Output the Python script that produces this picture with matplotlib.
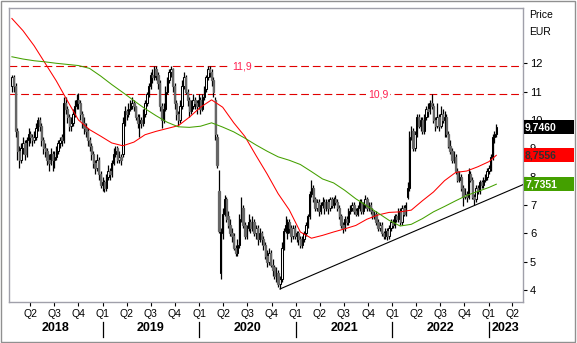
import matplotlib
matplotlib.use("Agg")
import matplotlib.pyplot as plt
import matplotlib.dates as mdates
from matplotlib.patches import Rectangle
import pandas as pd

plt.rcParams['font.family'] = ['Liberation Sans', 'DejaVu Sans']

# weekly candles, Jan 2018 - Feb 2023
weeks = pd.date_range('2018-01-22', periods=263, freq='7D')

open_ = [
    11.2, 11.5, 11.2, 9.6, 8.9, 8.6, 9.0, 9.2, 8.8, 9.3,
    9.5, 9.4, 9.3, 9.4, 9.7, 10.0, 9.8, 9.3, 9.0, 8.9,
    8.6, 8.5, 8.8, 8.6, 8.7, 8.9, 9.2, 9.4, 9.3, 10.6,
    10.4, 10.1, 9.8, 9.9, 10.2, 10.5, 10.7, 10.6, 10.2, 9.9,
    9.7, 9.6, 9.3, 9.1, 8.8, 8.5, 8.3, 8.6, 8.1, 7.7,
    7.8, 7.6, 8.0, 8.2, 8.1, 8.5, 8.8, 9.0, 8.6, 8.7,
    8.8, 9.9, 10.3, 10.2, 10.4, 10.5, 10.6, 10.5, 10.1, 9.9,
    10.0, 9.9, 10.2, 10.6, 10.9, 11.2, 11.6, 11.5, 11.8, 11.6,
    11.3, 10.5, 10.0, 10.4, 11.0, 11.4, 11.7, 11.8, 11.2, 10.6,
    10.2, 10.0, 10.5, 11.2, 11.5, 11.0, 10.7, 10.3, 10.5, 10.7,
    10.6, 10.5, 10.7, 10.4, 10.8, 11.1, 11.5, 11.8, 11.7, 11.4,
    10.7, 9.4, 7.5, 4.6, 6.0, 6.7, 7.2, 6.6, 6.3, 6.0,
    5.9, 5.5, 5.3, 5.6, 6.5, 6.9, 6.3, 5.9, 6.2, 6.4,
    6.2, 6.4, 6.0, 6.2, 5.8, 6.0, 5.8, 5.6, 5.2, 5.0,
    5.3, 4.9, 4.8, 4.5, 4.6, 4.2, 4.4, 5.5, 6.1, 6.0,
    6.4, 6.2, 5.9, 6.2, 5.9, 6.0, 5.8, 5.6, 5.8, 6.0,
    6.3, 6.6, 7.4, 7.6, 7.2, 6.9, 7.1, 6.8, 7.0, 7.1,
    6.9, 7.1, 6.9, 7.2, 7.0, 7.2, 7.1, 6.9, 6.6, 6.3,
    6.2, 6.5, 6.4, 6.8, 6.9, 7.0, 6.8, 6.7, 6.9, 7.1,
    6.8, 7.0, 7.2, 6.9, 7.0, 6.8, 6.6, 6.7, 6.4, 6.2,
    6.3, 6.0, 5.9, 6.1, 5.9, 6.2, 6.4, 6.3, 6.6, 6.5,
    6.8, 6.4, 6.9, 6.7, 7.3, 7.6, 9.4, 9.6, 9.0, 9.5,
    10.1, 9.8, 10.0, 9.6, 10.1, 10.4, 10.3, 10.6, 10.5, 10.0,
    9.8, 10.1, 9.8, 10.2, 10.0, 10.1, 9.5, 9.1, 8.9, 8.6,
    8.7, 8.2, 7.9, 8.0, 7.6, 7.3, 7.4, 7.3, 8.1, 7.9,
    7.3, 7.2, 7.6, 7.5, 7.8, 7.7, 7.9, 8.0, 8.2, 8.3,
    8.7, 9.4, 9.5,
]
high = [
    11.6, 11.6, 11.3, 9.7, 9.1, 9.2, 9.4, 9.3, 9.4, 9.7,
    9.6, 9.5, 9.6, 9.9, 10.1, 10.1, 9.9, 9.4, 9.2, 9.0,
    8.8, 9.0, 8.9, 8.9, 9.1, 9.3, 9.4, 9.5, 10.8, 10.8,
    10.5, 10.2, 10.1, 10.4, 10.7, 10.9, 10.95, 10.7, 10.3, 10.1,
    9.9, 9.7, 9.4, 9.2, 8.9, 8.6, 8.8, 8.7, 8.2, 8.0,
    7.9, 8.1, 8.4, 8.3, 8.6, 9.0, 9.1, 9.1, 8.9, 8.8,
    10.1, 10.5, 10.4, 10.6, 10.7, 10.8, 10.7, 10.5, 10.2, 10.2,
    10.1, 10.4, 10.7, 11.0, 11.3, 11.7, 11.8, 11.9, 11.9, 11.7,
    11.4, 10.6, 10.6, 11.2, 11.5, 11.8, 11.9, 11.85, 11.3, 10.7,
    10.3, 10.7, 11.4, 11.7, 11.6, 11.1, 10.8, 10.7, 10.9, 10.8,
    10.7, 10.9, 10.8, 10.9, 11.2, 11.6, 11.9, 11.9, 11.8, 11.5,
    10.8, 9.5, 8.24, 6.2, 6.9, 7.35, 7.3, 6.8, 6.5, 6.2,
    6.0, 5.6, 5.8, 6.7, 7.3, 7.0, 6.4, 6.3, 6.7, 6.5,
    6.6, 6.5, 6.3, 6.3, 6.2, 6.1, 5.9, 5.7, 5.4, 5.5,
    5.4, 5.1, 4.9, 4.8, 4.7, 4.5, 5.7, 6.2, 6.6, 6.5,
    6.5, 6.3, 6.3, 6.3, 6.1, 6.1, 5.9, 5.9, 6.1, 6.4,
    6.7, 7.5, 7.9, 7.7, 7.3, 7.2, 7.2, 7.1, 7.3, 7.2,
    7.2, 7.2, 7.3, 7.3, 7.3, 7.35, 7.2, 7.0, 6.7, 6.4,
    6.6, 6.6, 6.9, 7.0, 7.1, 7.1, 6.9, 7.0, 7.2, 7.2,
    7.1, 7.35, 7.3, 7.1, 7.1, 6.9, 6.8, 6.8, 6.5, 6.4,
    6.4, 6.1, 6.2, 6.2, 6.3, 6.5, 6.5, 6.7, 6.7, 6.9,
    6.9, 7.0, 7.0, 7.1, 7.8, 9.6, 9.8, 9.7, 9.6, 10.2,
    10.2, 10.1, 10.1, 10.2, 10.5, 10.6, 10.7, 10.9, 10.6, 10.1,
    10.6, 10.2, 10.5, 10.4, 10.3, 10.2, 9.6, 9.3, 9.0, 8.9,
    8.8, 8.3, 8.2, 8.1, 7.7, 7.6, 7.5, 8.3, 8.2, 8.0,
    7.4, 7.7, 7.7, 7.9, 7.9, 8.0, 8.1, 8.3, 8.4, 8.8,
    9.5, 9.6, 9.85,
]
low = [
    11.0, 11.0, 9.4, 8.6, 8.3, 8.5, 8.8, 8.6, 8.7, 9.1,
    9.2, 9.1, 9.2, 9.3, 9.6, 9.6, 9.1, 8.8, 8.7, 8.4,
    8.2, 8.4, 8.2, 8.3, 8.6, 8.8, 9.0, 9.1, 9.2, 10.2,
    9.9, 9.6, 9.6, 9.8, 10.1, 10.4, 10.4, 10.0, 9.7, 9.5,
    9.4, 9.1, 8.9, 8.6, 8.3, 8.1, 8.2, 7.9, 7.6, 7.5,
    7.45, 7.5, 7.9, 7.9, 8.0, 8.4, 8.7, 8.5, 8.5, 8.4,
    8.7, 9.8, 10.0, 10.1, 10.3, 10.4, 10.3, 10.0, 9.7, 9.4,
    9.7, 9.8, 10.1, 10.5, 10.8, 11.1, 11.3, 11.4, 11.4, 11.1,
    10.3, 9.7, 9.9, 10.3, 10.9, 11.3, 11.5, 11.0, 10.4, 10.0,
    9.8, 9.9, 10.4, 11.1, 10.9, 10.5, 10.1, 10.2, 10.4, 10.4,
    10.2, 10.4, 10.2, 10.3, 10.7, 11.0, 11.4, 11.5, 11.2, 10.8,
    9.3, 8.3, 6.0, 4.4, 5.8, 6.6, 6.4, 6.2, 5.9, 5.7,
    5.4, 5.2, 5.2, 5.5, 6.4, 6.2, 5.8, 5.8, 6.1, 6.0,
    6.1, 5.9, 5.8, 5.6, 5.7, 5.6, 5.4, 5.1, 4.8, 4.9,
    4.8, 4.5, 4.4, 4.3, 4.1, 4.05, 4.3, 5.4, 6.0, 5.8,
    6.0, 5.7, 5.8, 5.8, 5.7, 5.6, 5.5, 5.5, 5.7, 5.9,
    6.2, 6.5, 7.3, 7.1, 6.8, 6.8, 6.6, 6.7, 6.9, 6.7,
    6.8, 6.7, 6.8, 6.9, 6.9, 7.0, 6.8, 6.5, 6.2, 6.0,
    6.1, 6.3, 6.3, 6.7, 6.8, 6.7, 6.6, 6.6, 6.8, 6.7,
    6.7, 6.9, 6.8, 6.8, 6.7, 6.5, 6.5, 6.3, 6.1, 6.1,
    5.9, 5.8, 5.8, 5.77, 5.8, 6.1, 6.2, 6.2, 6.4, 6.4,
    6.3, 6.3, 6.6, 6.6, 7.2, 7.5, 9.3, 8.9, 8.9, 9.4,
    9.7, 9.6, 9.5, 9.5, 10.0, 10.1, 10.2, 10.4, 9.9, 9.6,
    9.7, 9.6, 9.7, 9.9, 9.4, 9.4, 9.0, 8.8, 8.5, 8.5,
    8.1, 7.8, 7.8, 7.5, 6.95, 7.2, 7.1, 7.2, 7.8, 7.2,
    7.0, 7.1, 7.4, 7.4, 7.6, 7.6, 7.8, 7.9, 8.1, 8.2,
    8.6, 9.2, 9.4,
]
close = [
    11.5, 11.2, 9.6, 8.9, 8.6, 9.0, 9.2, 8.8, 9.3, 9.5,
    9.4, 9.3, 9.4, 9.7, 10.0, 9.8, 9.3, 9.0, 8.9, 8.6,
    8.5, 8.8, 8.6, 8.7, 8.9, 9.2, 9.3, 9.3, 10.6, 10.4,
    10.1, 9.8, 9.9, 10.2, 10.5, 10.7, 10.6, 10.2, 9.9, 9.7,
    9.6, 9.3, 9.1, 8.8, 8.5, 8.3, 8.6, 8.1, 7.7, 7.8,
    7.6, 8.0, 8.2, 8.1, 8.5, 8.8, 8.9, 8.6, 8.7, 8.6,
    9.9, 10.3, 10.2, 10.4, 10.5, 10.6, 10.5, 10.1, 9.9, 10.0,
    9.9, 10.2, 10.6, 10.9, 11.2, 11.6, 11.5, 11.8, 11.6, 11.3,
    10.5, 10.0, 10.4, 11.0, 11.4, 11.7, 11.8, 11.2, 10.6, 10.2,
    10.0, 10.5, 11.2, 11.5, 11.0, 10.7, 10.3, 10.5, 10.7, 10.6,
    10.5, 10.7, 10.4, 10.8, 11.1, 11.5, 11.8, 11.7, 11.4, 11.0,
    9.5, 8.4, 6.1, 6.1, 6.7, 7.2, 6.5, 6.3, 6.0, 5.9,
    5.5, 5.3, 5.6, 6.5, 6.9, 6.3, 5.9, 6.2, 6.4, 6.2,
    6.4, 6.0, 6.2, 5.8, 6.0, 5.8, 5.6, 5.2, 5.0, 5.3,
    4.9, 4.7, 4.5, 4.6, 4.2, 4.4, 5.5, 6.1, 6.3, 6.4,
    6.2, 5.9, 6.2, 5.9, 6.0, 5.8, 5.6, 5.8, 6.0, 6.3,
    6.6, 7.4, 7.6, 7.2, 6.9, 7.1, 6.8, 7.0, 7.1, 6.9,
    7.1, 6.9, 7.2, 7.0, 7.2, 7.1, 6.9, 6.6, 6.3, 6.2,
    6.5, 6.4, 6.8, 6.9, 7.0, 6.8, 6.7, 6.9, 7.1, 6.8,
    7.0, 7.2, 6.9, 7.0, 6.8, 6.6, 6.7, 6.4, 6.2, 6.3,
    6.0, 5.9, 6.1, 5.9, 6.2, 6.4, 6.3, 6.6, 6.5, 6.8,
    6.4, 6.9, 6.7, 7.0, 7.6, 9.4, 9.6, 9.0, 9.5, 10.1,
    9.8, 10.0, 9.6, 10.1, 10.4, 10.3, 10.6, 10.5, 10.0, 9.8,
    10.1, 9.8, 10.2, 10.0, 10.1, 9.5, 9.1, 8.9, 8.6, 8.7,
    8.2, 7.9, 8.0, 7.6, 7.3, 7.4, 7.3, 8.1, 7.9, 7.3,
    7.2, 7.6, 7.5, 7.8, 7.7, 7.9, 8.0, 8.2, 8.3, 8.7,
    9.4, 9.5, 9.746,
]

# moving averages, read every 6th week
ma_idx = list(range(0, 259, 6)) + [262]
ma_red = [
    13.58, 13.15, 12.62, 12.0, 11.38, 10.68, 10.0, 9.66, 9.43, 9.19,
    9.09, 9.22, 9.48, 9.6, 9.7, 9.8, 10.1, 10.45, 10.71, 10.45,
    9.9, 9.42, 8.75, 8.1, 7.4, 6.83, 6.05, 5.83, 5.93, 6.05,
    6.16, 6.28, 6.5, 6.65, 6.74, 6.76, 6.82, 7.15, 7.46, 7.86,
    8.15, 8.2, 8.35, 8.53, 8.7556,
]
ma_green = [
    12.23, 12.15, 12.09, 12.05, 12.0, 11.96, 11.92, 11.82, 11.55, 11.25,
    10.97, 10.68, 10.4, 10.15, 9.92, 9.76, 9.74, 9.78, 9.9, 9.75,
    9.58, 9.36, 9.12, 8.9, 8.7, 8.58, 8.43, 8.18, 7.92, 7.78,
    7.52, 7.22, 6.97, 6.72, 6.46, 6.26, 6.32, 6.52, 6.76, 6.95,
    7.15, 7.34, 7.48, 7.62, 7.7351,
]

levels = [11.9, 10.9]
level_labels = ['11,9', '10,9']
level_label_dates = ['2020-06-12', '2021-11-09']

trend_dates = ['2020-11-02', '2023-05-11']
trend_values = [4.04, 7.72]

last_values = [9.746, 8.7556, 7.7351]
last_labels = ['9,7460', '8,7556', '7,7351']
last_colors = ['#000000', '#ff0000', '#44a000']
last_text_colors = ['white', '#303030', 'white']

quarters = pd.date_range('2018-04-01', '2023-04-01', freq='QS')
years = [2018, 2019, 2020, 2021, 2022, 2023]
x_start = pd.Timestamp('2018-01-11')
x_end = pd.Timestamp('2023-05-11')

fig = plt.figure(figsize=(5.77, 3.43), dpi=100)
ax = fig.add_axes([9 / 577, 1 - 302 / 343, 514 / 577, 294 / 343])

x = mdates.date2num(weeks)
up = [c >= o for o, c in zip(open_, close)]

# wicks
ax.vlines(x, low, high, color='black', lw=0.9, zorder=3)

# bodies
w = 5.0
xu = [xi for xi, u in zip(x, up) if u]
xd = [xi for xi, u in zip(x, up) if not u]
bu = [min(o, c) for o, c, u in zip(open_, close, up) if u]
hu = [max(abs(c - o), 0.03) for o, c, u in zip(open_, close, up) if u]
bd = [min(o, c) for o, c, u in zip(open_, close, up) if not u]
hd = [max(abs(c - o), 0.03) for o, c, u in zip(open_, close, up) if not u]
ax.bar(xu, hu, bottom=bu, width=w, facecolor='white', edgecolor='black', lw=0.75, zorder=4)
ax.bar(xd, hd, bottom=bd, width=w, facecolor='#666666', edgecolor='#666666', lw=0.9, zorder=4)

ma_x = [x[i] for i in ma_idx]
ax.plot(ma_x, ma_red, color='#ff0000', lw=0.75, zorder=5)
ax.plot(ma_x, ma_green, color='#44a000', lw=0.75, zorder=5)

# support trendline
ax.plot(mdates.date2num(pd.to_datetime(trend_dates)), trend_values, color='black', lw=0.8, zorder=5)

# resistance levels
for lvl, lab, d in zip(levels, level_labels, level_label_dates):
    ax.axhline(lvl, color='#e00000', lw=0.8, dashes=(7, 3.5), zorder=2)
    ax.text(mdates.date2num(pd.Timestamp(d)), lvl, lab, color='#ff2050', fontsize=7.5,
            ha='center', va='center', zorder=6,
            bbox=dict(facecolor='white', edgecolor='none', pad=1.2))

ax.set_xlim(mdates.date2num(x_start), mdates.date2num(x_end))
ax.set_ylim(3.58, 13.95)

# right price axis
ax.yaxis.tick_right()
ax.set_yticks(range(4, 13))
ax.set_yticklabels([str(v) for v in range(4, 13)])
ax.tick_params(axis='y', direction='out', length=3, width=0.8, pad=2, labelsize=8)

# quarter ticks
ax.set_xticks(mdates.date2num(quarters))
ax.set_xticklabels([f'Q{d.quarter}' for d in quarters])
ax.tick_params(axis='x', direction='out', length=3, width=0.8, pad=2, labelsize=7.5)

for s in ax.spines.values():
    s.set_color('#a0a0aa')
    s.set_linewidth(1)

# year labels and separators
xt = ax.get_xaxis_transform()
lo, hi = mdates.date2num(x_start), mdates.date2num(x_end)
for yr in years:
    a = max(mdates.date2num(pd.Timestamp(f'{yr}-01-01')), lo)
    b = min(mdates.date2num(pd.Timestamp(f'{yr + 1}-01-01')), hi)
    ax.text((a + b) / 2, -0.088, str(yr), transform=xt, ha='center', va='center',
            fontsize=9, fontweight='bold')
    if yr > 2018:
        ax.plot([a, a], [-0.068, -0.119], transform=xt, color='black', lw=0.9, clip_on=False)

# last value boxes on the right
yt = ax.get_yaxis_transform()
for val, lab, fc, tc in zip(last_values, last_labels, last_colors, last_text_colors):
    ax.add_patch(Rectangle((1.001, val - 0.25), 0.099, 0.5, transform=yt, facecolor=fc,
                           edgecolor='none', clip_on=False, zorder=10))
    ax.text(1.004, val, lab, transform=yt, color=tc, fontsize=7.5, fontweight='bold',
            ha='left', va='center', zorder=11, clip_on=False)

fig.text(529 / 577, 1 - 15 / 343, 'Price', fontsize=7.5, ha='left', va='center')
fig.text(529 / 577, 1 - 32 / 343, 'EUR', fontsize=7.5, ha='left', va='center')

fig.patches.append(Rectangle((0.002, 0.003), 0.995, 0.993, transform=fig.transFigure,
                             fill=False, edgecolor='#909090', lw=1))

fig.savefig('out.png', dpi=100)
